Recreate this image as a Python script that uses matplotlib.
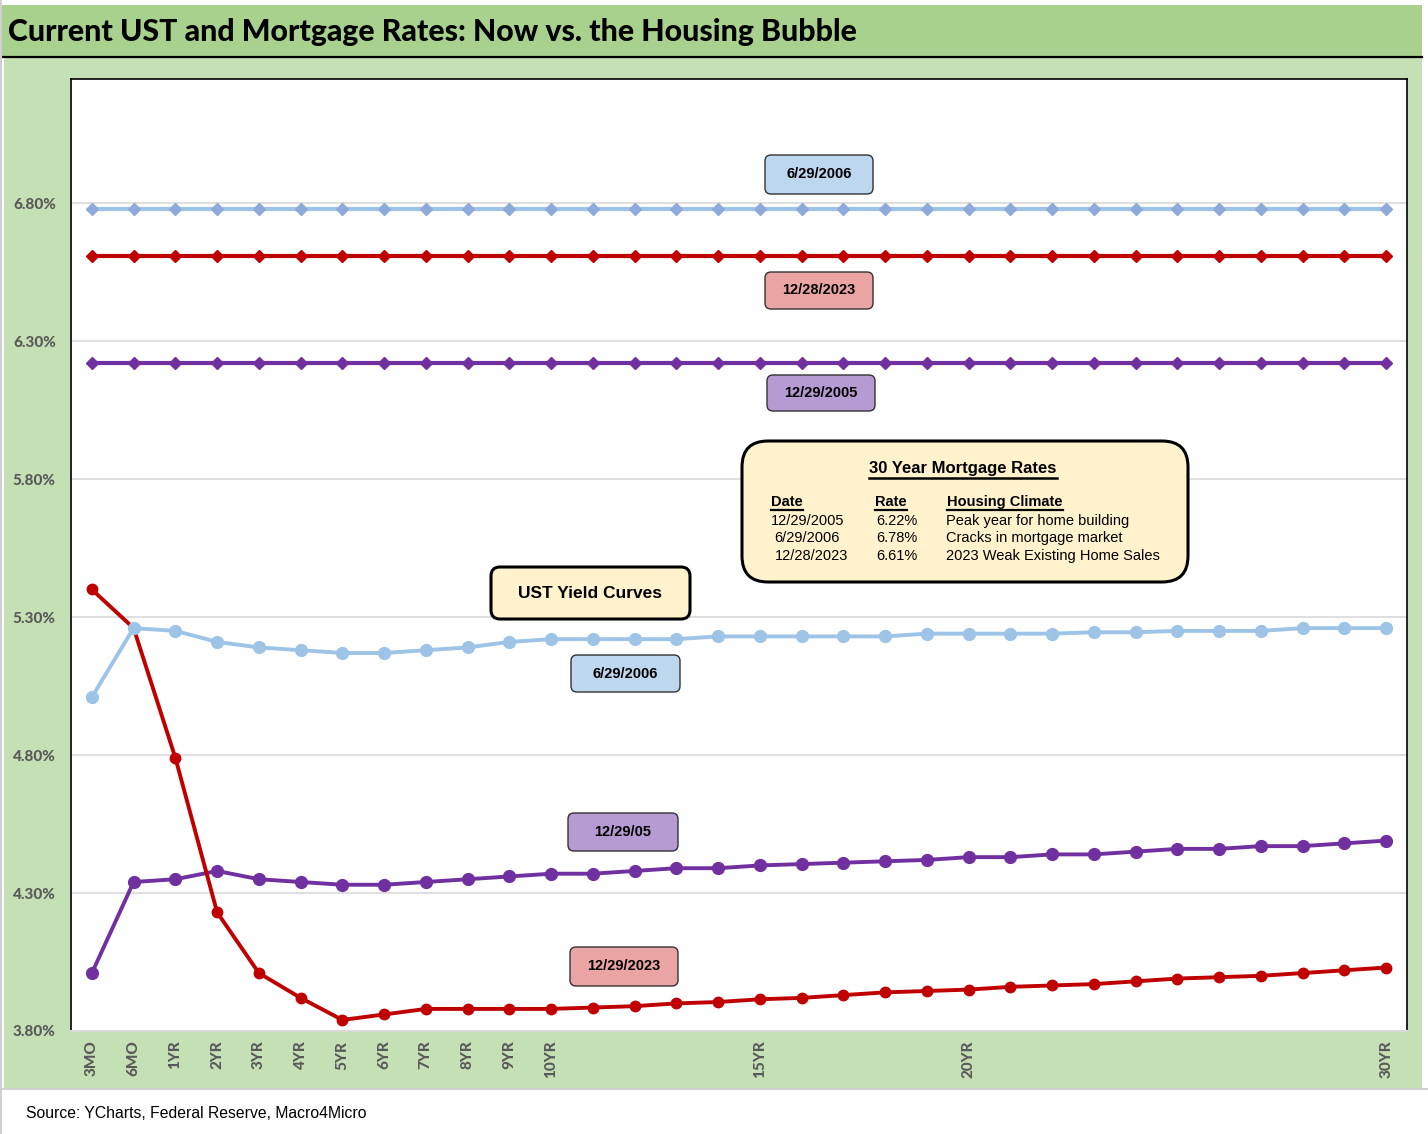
import numpy as np
import matplotlib
matplotlib.use("Agg")
import matplotlib.pyplot as plt
from matplotlib.patches import FancyBboxPatch, Rectangle
from matplotlib.lines import Line2D

# tenors on the x axis (only some are labelled)
tenors = ["3MO", "6MO", "1YR", "2YR", "3YR", "4YR", "5YR", "6YR", "7YR", "8YR", "9YR", "10YR",
          "11YR", "12YR", "13YR", "14YR", "15YR", "16YR", "17YR", "18YR", "19YR", "20YR",
          "21YR", "22YR", "23YR", "24YR", "25YR", "26YR", "27YR", "28YR", "29YR", "30YR"]
shown_ticks = ["3MO", "6MO", "1YR", "2YR", "3YR", "4YR", "5YR", "6YR", "7YR", "8YR", "9YR",
               "10YR", "15YR", "20YR", "30YR"]

# UST yield curves (%)
ust_2006 = [5.01, 5.26, 5.25, 5.21, 5.19, 5.18, 5.17, 5.17, 5.18, 5.19, 5.21, 5.22,
            5.22, 5.22, 5.22, 5.23, 5.23, 5.23, 5.23, 5.23, 5.24, 5.24,
            5.24, 5.24, 5.245, 5.245, 5.25, 5.25, 5.25, 5.26, 5.26, 5.26]
ust_2005 = [4.01, 4.34, 4.35, 4.38, 4.35, 4.34, 4.33, 4.33, 4.34, 4.35, 4.36, 4.37,
            4.37, 4.38, 4.39, 4.39, 4.40, 4.405, 4.41, 4.415, 4.42, 4.43,
            4.43, 4.44, 4.44, 4.45, 4.46, 4.46, 4.47, 4.47, 4.48, 4.49]
ust_2023 = [5.40, 5.26, 4.79, 4.23, 4.01, 3.92, 3.84, 3.86, 3.88, 3.88, 3.88, 3.88,
            3.885, 3.89, 3.90, 3.905, 3.915, 3.92, 3.93, 3.94, 3.945, 3.95,
            3.96, 3.965, 3.97, 3.98, 3.99, 3.995, 4.00, 4.01, 4.02, 4.03]

# 30 year mortgage rates (%)
mort_dates = ["12/29/2005", "6/29/2006", "12/28/2023"]
mort_rates = [6.22, 6.78, 6.61]
mort_climate = ["Peak year for home building", "Cracks in mortgage market",
                "2023 Weak Existing Home Sales"]

y_ticks = [3.80, 4.30, 4.80, 5.30, 5.80, 6.30, 6.80]

W, H = 1428, 1134
fig = plt.figure(figsize=(W / 100, H / 100), dpi=100)
fig.patch.set_facecolor("white")


def P(px, py):
    # pixel from top-left -> inches from bottom-left
    return px / 100, (H - py) / 100


def box(x0, y0, x1, y1, fc, ec="#333333", lw=1.0, r=8):
    bx, by = P(x0, y1)
    p = FancyBboxPatch((bx, by), (x1 - x0) / 100, (y1 - y0) / 100,
                       boxstyle="round,pad=0,rounding_size=%f" % (r / 100),
                       fc=fc, ec=ec, lw=lw, transform=fig.dpi_scale_trans, zorder=5)
    fig.add_artist(p)


def ftext(px, py, s, **kw):
    x, y = P(px, py)
    return fig.text(x, y, s, transform=fig.dpi_scale_trans, zorder=6, **kw)


def underline(t, lw=1.6):
    fig.canvas.draw()
    bb = t.get_window_extent()
    fig.add_artist(Line2D([bb.x0, bb.x1], [bb.y0 - 1, bb.y0 - 1], color="black",
                          lw=lw, transform=None, zorder=7))


# background panels
fig.add_artist(Rectangle(P(4, 1088), 1418 / 100, 1030 / 100, fc="#c5e0b4", ec="none",
                         transform=fig.dpi_scale_trans, zorder=0))
fig.add_artist(Rectangle(P(2, 57), 1420 / 100, 52 / 100, fc="#a9d18e", ec="none",
                         transform=fig.dpi_scale_trans, zorder=0))
fig.add_artist(Line2D([0.02, 14.22], [P(0, 57)[1]] * 2, color="black", lw=1.6,
                      transform=fig.dpi_scale_trans, zorder=1))
fig.add_artist(Line2D([0.01, 0.01], [0, 11.34], color="#d0d0d0", lw=1.5,
                      transform=fig.dpi_scale_trans, zorder=1))
fig.add_artist(Line2D([0, 14.28], [P(0, 1089)[1]] * 2, color="#d0d0d0", lw=1.5,
                      transform=fig.dpi_scale_trans, zorder=1))

ftext(8, 32, "Current UST and Mortgage Rates: Now vs. the Housing Bubble",
      fontsize=21.8, fontweight="black", family="Lato", va="center", ha="left")
ftext(26, 1113, "Source: YCharts, Federal Reserve, Macro4Micro",
      fontsize=11.3, family=["Liberation Sans Narrow", "Liberation Sans"], va="center")

# chart axes
ax = fig.add_axes([71 / W, 1 - 1031 / H, 1336 / W, 952 / H])
ax.set_facecolor("white")
x = np.arange(len(tenors))

lblue, red, purple = "#9dc3e6", "#c00000", "#7030a0"

for rate, col, mcol in [(mort_rates[1], lblue, "#8eaadb"), (mort_rates[2], red, red),
                        (mort_rates[0], purple, purple)]:
    ax.plot(x, [rate] * len(x), color=col, lw=3.0, marker="D", ms=6.3,
            mfc=mcol, mec=mcol, zorder=3)

ax.plot(x, ust_2005, color=purple, lw=2.8, marker="o", ms=8.5, zorder=3)
ax.plot(x, ust_2023, color=red, lw=2.8, marker="o", ms=7.5, zorder=3)
ax.plot(x, ust_2006, color=lblue, lw=2.8, marker="o", ms=8.5, zorder=3)

ax.set_xlim(-0.5, 31.5)
ax.set_ylim(3.80, 7.25)
ax.set_yticks(y_ticks)
ax.set_yticklabels(["%.2f%%" % v for v in y_ticks])
ax.yaxis.grid(True, color="#d9d9d9", lw=1.2)
ax.set_axisbelow(True)
ax.set_xticks([tenors.index(t) for t in shown_ticks])
ax.set_xticklabels(shown_ticks, rotation=90)
ax.tick_params(length=0)
ax.tick_params(axis="y", pad=11)
ax.tick_params(axis="x", pad=7)
for lab in ax.get_yticklabels() + ax.get_xticklabels():
    lab.set_family("Lato")
    lab.set_fontweight("black")
    lab.set_fontsize(11)
    lab.set_color("#595959")
for s in ["left", "top", "right"]:
    ax.spines[s].set_color("black")
    ax.spines[s].set_linewidth(1.2)
ax.spines["bottom"].set_color("#d9d9d9")
ax.spines["bottom"].set_linewidth(1.5)

narrow = ["Liberation Sans Narrow", "Liberation Sans"]
c_blue, c_red, c_purple = "#bdd7ee", "#eba4a4", "#b69ad2"

# series labels
for (x0, y0, x1, y1, fc, s) in [
        (765, 155, 873, 194, c_blue, "6/29/2006"),
        (765, 272, 873, 309, c_red, "12/28/2023"),
        (767, 375, 875, 411, c_purple, "12/29/2005"),
        (571, 655, 680, 692, c_blue, "6/29/2006"),
        (568, 813, 678, 851, c_purple, "12/29/05"),
        (570, 947, 678, 986, c_red, "12/29/2023")]:
    box(x0, y0, x1, y1, fc, ec="#333333", lw=1.0, r=6)
    ftext((x0 + x1) / 2, (y0 + y1) / 2, s, ha="center", va="center", fontsize=10.5,
          fontweight="bold", family=narrow)

box(491, 567, 690, 619, "#fff2cc", ec="black", lw=2.2, r=9)
ftext(590, 593, "UST Yield Curves", ha="center", va="center", fontsize=12.5,
      fontweight="bold", family=narrow)

# mortgage rate table
box(742, 441, 1188, 582, "#fff2cc", ec="black", lw=2.2, r=26)
t = ftext(963, 469, "30 Year Mortgage Rates", ha="center", va="center", fontsize=12,
          fontweight="bold", family="Liberation Sans")
underline(t, 1.8)
col_x = [771, 875, 947]
for cx, s in zip(col_x, ["Date", "Rate", "Housing Climate"]):
    t = ftext(cx, 502, s, ha="left", va="center", fontsize=10.5, fontweight="bold",
              family="Liberation Sans")
    underline(t, 1.6)
row_y = [521, 538, 556]
date_x = [771, 774, 775]
for i in range(3):
    ftext(date_x[i], row_y[i], mort_dates[i], ha="left", va="center", fontsize=10.5,
          family="Liberation Sans")
    ftext(876, row_y[i], "%.2f%%" % mort_rates[i], ha="left", va="center", fontsize=10.5,
          family="Liberation Sans")
    ftext(946, row_y[i], mort_climate[i], ha="left", va="center", fontsize=10.5,
          family="Liberation Sans")

fig.savefig("out.png", dpi=100, facecolor="white")
